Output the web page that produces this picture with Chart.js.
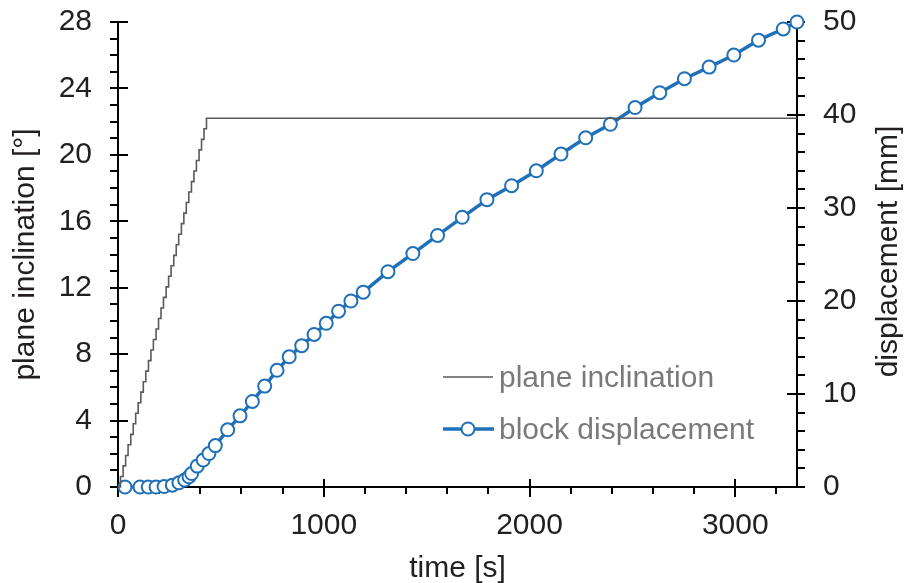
<!DOCTYPE html>
<html>
<head>
<meta charset="utf-8">
<script src="https://cdn.jsdelivr.net/npm/chart.js@4.4.1/dist/chart.umd.min.js"></script>
<style>
  html, body { margin: 0; padding: 0; background: #ffffff; }
  #wrap { width: 918px; height: 583px; }
</style>
</head>
<body>
<div id="wrap"><canvas id="c" width="918" height="583"></canvas></div>
<script>
// ---- data ----
const planeTime = [0, 12, 25, 37, 49, 62, 74, 86, 98, 111, 123, 135, 148, 160, 172, 185, 197, 209, 221, 234, 246, 258, 271, 283, 295, 308, 320, 332, 344, 357, 369, 381, 394, 406, 418, 430, 3300];
const planeDeg  = [0, 0.63, 1.27, 1.90, 2.54, 3.17, 3.81, 4.44, 5.07, 5.71, 6.34, 6.98, 7.61, 8.25, 8.88, 9.51, 10.15, 10.78, 11.42, 12.05, 12.69, 13.32, 13.95, 14.59, 15.22, 15.86, 16.49, 17.13, 17.76, 18.39, 19.03, 19.66, 20.30, 20.93, 21.57, 22.2, 22.2];

const dispTime = [34, 107, 147, 185, 224, 264, 296, 324, 345, 358, 385, 414, 442, 473, 533, 593, 653, 713, 773, 832, 893, 953, 1012, 1072, 1132, 1192, 1312, 1433, 1553, 1673, 1793, 1913, 2033, 2153, 2273, 2393, 2513, 2633, 2753, 2873, 2993, 3113, 3233, 3300];
const dispMM   = [0, 0, 0, 0, 0.05, 0.2, 0.45, 0.75, 1.1, 1.45, 2.25, 2.9, 3.6, 4.45, 6.15, 7.65, 9.2, 10.85, 12.55, 14.0, 15.2, 16.4, 17.6, 18.9, 20.0, 20.95, 23.15, 25.1, 27.05, 29.0, 30.9, 32.4, 34.0, 35.8, 37.55, 39.0, 40.8, 42.4, 43.9, 45.15, 46.45, 48.05, 49.25, 50.0];

const seriesNames = ['plane inclination', 'block displacement'];
const axisTitles = { x: 'time [s]', y: 'plane inclination [°]', y2: 'displacement [mm]' };
const xTicks = [0, 1000, 2000, 3000];
const yTicks = [0, 4, 8, 12, 16, 20, 24, 28];
const y2Ticks = [0, 10, 20, 30, 40, 50];

// ---- styles ----
const BLUE = '#1f70b8';
const GRAY = '#5a5a5a';
const TXT = '#231f20';
const FONT = "'Liberation Sans', Arial, sans-serif";
const FS = 30;

const planePts = planeTime.map((t, i) => ({ x: t, y: planeDeg[i] }));
const dispPts = dispTime.map((t, i) => ({ x: t, y: dispMM[i] }));

function range(a, b, s) { const r = []; for (let v = a; v <= b + 1e-9; v += s) r.push(+v.toFixed(6)); return r; }

const tickPlugin = {
  id: 'crossTicks',
  beforeDatasetsDraw(chart) {
    const ctx = chart.ctx;
    const sx = chart.scales.x, sy = chart.scales.y, sy2 = chart.scales.y2;
    const a = chart.chartArea;
    ctx.save();
    ctx.strokeStyle = '#000';
    ctx.lineWidth = 2;
    ctx.beginPath();
    range(0, 3300, 200).forEach(v => {
      const p = Math.round(sx.getPixelForValue(v));
      const major = xTicks.includes(v);
      ctx.moveTo(p, major ? a.bottom - 8 : a.bottom);
      ctx.lineTo(p, a.bottom + (major ? 10 : 7));
    });
    range(0, 28, 1).forEach(v => {
      const p = Math.round(sy.getPixelForValue(v));
      const major = yTicks.includes(v);
      ctx.moveTo(a.left - 8, p);
      ctx.lineTo(major ? a.left + 10 : a.left, p);
    });
    range(0, 50, 2).forEach(v => {
      const p = Math.round(sy2.getPixelForValue(v));
      const major = y2Ticks.includes(v);
      ctx.moveTo(major ? a.right - 10 : a.right, p);
      ctx.lineTo(a.right + 8, p);
    });
    ctx.stroke();
    ctx.restore();
  },
  afterDraw(chart) {
    const ctx = chart.ctx;
    const a = chart.chartArea;
    ctx.save();
    ctx.fillStyle = TXT;
    ctx.font = `${FS}px ${FONT}`;
    ctx.textAlign = 'center';
    ctx.textBaseline = 'middle';
    ctx.translate(889, (a.top + a.bottom) / 2 - 3);
    ctx.rotate(-Math.PI / 2);
    ctx.fillText(axisTitles.y2, 0, 0);
    ctx.restore();

    ctx.save();
    ctx.font = `${FS}px ${FONT}`;
    ctx.textBaseline = 'middle';
    ctx.textAlign = 'left';
    ctx.strokeStyle = GRAY; ctx.lineWidth = 1.5;
    ctx.beginPath(); ctx.moveTo(443, 377); ctx.lineTo(493, 377); ctx.stroke();
    ctx.fillStyle = '#7a7a7a';
    ctx.fillText(seriesNames[0], 499, 379);
    ctx.strokeStyle = BLUE; ctx.lineWidth = 3.5;
    ctx.beginPath(); ctx.moveTo(443, 429); ctx.lineTo(494, 429); ctx.stroke();
    ctx.beginPath(); ctx.arc(468, 429, 6.5, 0, Math.PI * 2);
    ctx.fillStyle = '#fff'; ctx.fill();
    ctx.lineWidth = 2; ctx.stroke();
    ctx.fillStyle = '#7a7a7a';
    ctx.fillText(seriesNames[1], 499, 431);
    ctx.restore();
  }
};

const noPadV = s => { s.paddingTop = 0; s.paddingBottom = 0; };

new Chart(document.getElementById('c'), {
  type: 'scatter',
  data: {
    datasets: [
      {
        label: seriesNames[0],
        data: planePts,
        yAxisID: 'y',
        showLine: true,
        stepped: 'before',
        borderColor: GRAY,
        borderWidth: 1.6,
        pointRadius: 0,
        pointHoverRadius: 0,
        clip: false
      },
      {
        label: seriesNames[1],
        data: dispPts,
        yAxisID: 'y2',
        showLine: true,
        borderColor: BLUE,
        borderWidth: 3.5,
        pointRadius: 6.5,
        pointBorderWidth: 2,
        pointBackgroundColor: '#ffffff',
        pointBorderColor: BLUE,
        clip: false
      }
    ]
  },
  options: {
    responsive: false,
    animation: false,
    devicePixelRatio: 1,
    layout: { padding: { top: 22, left: 0, right: 0, bottom: 0 } },
    plugins: { legend: { display: false }, tooltip: { enabled: false } },
    scales: {
      x: {
        type: 'linear', min: 0, max: 3300,
        afterFit: s => { s.height = 96; s.paddingLeft = 0; s.paddingRight = 0; },
        afterBuildTicks: s => { s.ticks = xTicks.map(v => ({ value: v })); },
        grid: { display: false, drawTicks: false },
        border: { display: true, color: '#000', width: 2 },
        ticks: { color: TXT, font: { family: FONT, size: FS }, padding: 21, maxRotation: 0, callback: v => String(v) },
        title: { display: true, text: axisTitles.x, color: TXT, font: { family: FONT, size: FS }, padding: { top: 0, bottom: -4 } }
      },
      y: {
        type: 'linear', position: 'left', min: 0, max: 28,
        afterFit: s => { s.width = 118; noPadV(s); },
        afterBuildTicks: s => { s.ticks = yTicks.map(v => ({ value: v })); },
        grid: { display: false, drawTicks: false },
        border: { display: true, color: '#000', width: 2 },
        ticks: { color: TXT, font: { family: FONT, size: FS }, padding: 26, callback: v => String(v) },
        title: { display: true, text: axisTitles.y, color: TXT, font: { family: FONT, size: FS }, padding: { top: 8, bottom: 0 } }
      },
      y2: {
        type: 'linear', position: 'right', min: 0, max: 50,
        afterFit: s => { s.width = 121; noPadV(s); },
        afterBuildTicks: s => { s.ticks = y2Ticks.map(v => ({ value: v })); },
        grid: { display: false, drawTicks: false },
        border: { display: true, color: '#000', width: 2 },
        ticks: { color: TXT, font: { family: FONT, size: FS }, padding: 26, callback: v => String(v) }
      }
    }
  },
  plugins: [tickPlugin]
});
</script>
</body>
</html>
